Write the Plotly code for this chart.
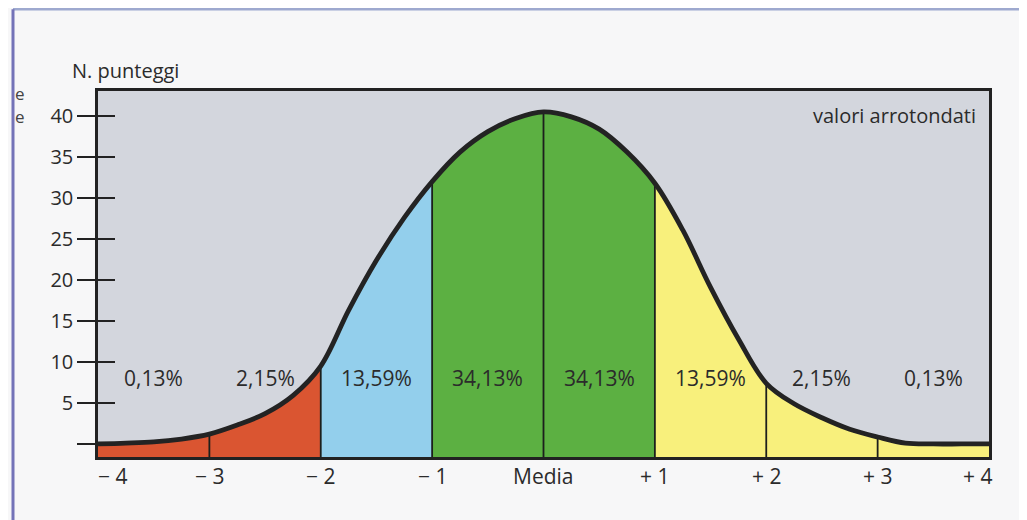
import plotly.graph_objects as go

# ---- data ----
curve_x = [-4.0, -3.75, -3.5, -3.25, -3.0, -2.75, -2.5, -2.25, -2.0, -1.75, -1.5, -1.25,
           -1.0, -0.75, -0.5, -0.25, 0.0, 0.25, 0.5, 0.75, 1.0, 1.25, 1.5, 1.75,
           2.0, 2.25, 2.5, 2.75, 3.0, 3.25, 3.5, 3.75, 4.0]
curve_y = [0.0, 0.1, 0.25, 0.6, 1.2, 2.3, 3.7, 5.9, 9.5, 16.3, 22.4, 27.6,
           32.0, 35.6, 38.1, 39.7, 40.5, 39.9, 38.4, 35.6, 31.8, 26.1, 19.1, 12.8,
           7.4, 4.9, 3.2, 1.8, 0.85, 0.1, 0.0, 0.0, 0.0]
segment_edges = [-4, -3, -2, -1, 0, 1, 2, 3, 4]
segment_labels = ["0,13%", "2,15%", "13,59%", "34,13%", "34,13%", "13,59%", "2,15%", "0,13%"]
segment_colors = ["#da5531", "#da5531", "#93cfec", "#5cb042", "#5cb042", "#f8f07c", "#f8f07c", "#f8f07c"]
divider_x = [-3, -2, -1, 0, 1, 2, 3]
x_tick_vals = [-4, -3, -2, -1, 0, 1, 2, 3, 4]
x_tick_text = ["\u2212 4", "\u2212 3", "\u2212 2", "\u2212 1", "Media", "+ 1", "+ 2", "+ 3", "+ 4"]
y_tick_vals = [0, 5, 10, 15, 20, 25, 30, 35, 40]
y_tick_text = ["", "5", "10", "15", "20", "25", "30", "35", "40"]

Y_MIN, Y_MAX = -1.59, 43.05
FONT = "Open Sans"
TXT = "#2b2b2b"

fig = go.Figure()

# coloured areas under the curve
for i in range(len(segment_edges) - 1):
    a, b = segment_edges[i], segment_edges[i + 1]
    xs = [x for x in curve_x if a <= x <= b]
    ys = [y for x, y in zip(curve_x, curve_y) if a <= x <= b]
    fig.add_trace(go.Scatter(
        x=xs + [b, a], y=ys + [Y_MIN, Y_MIN],
        fill="toself", fillcolor=segment_colors[i], mode="lines",
        line=dict(width=0), hoverinfo="skip", showlegend=False))

# vertical dividers
for d in divider_x:
    top = curve_y[curve_x.index(float(d))]
    fig.add_trace(go.Scatter(x=[d, d], y=[Y_MIN, top], mode="lines",
                             line=dict(color="#1c1f1c", width=1.8),
                             hoverinfo="skip", showlegend=False))

# the curve
fig.add_trace(go.Scatter(
    x=curve_x, y=curve_y, mode="lines",
    line=dict(color="#232323", width=4.8, shape="spline", smoothing=1.0),
    hoverinfo="skip", showlegend=False))

# invisible trace to anchor the overlaying axis (inside ticks)
fig.add_trace(go.Scatter(x=[-4], y=[0], yaxis="y2", mode="markers",
                         marker=dict(opacity=0), hoverinfo="skip", showlegend=False))

# percentage labels
for i, lab in enumerate(segment_labels):
    mid = (segment_edges[i] + segment_edges[i + 1]) / 2
    fig.add_annotation(x=mid, y=8.0, text=lab, showarrow=False,
                       font=dict(family=FONT, size=21, color=TXT))

# x labels
for v, t in zip(x_tick_vals, x_tick_text):
    shift = 14 if v == -4 else (-12 if v == 4 else 0)
    fig.add_annotation(x=v, y=-0.052, yref="paper", text=t, showarrow=False,
                       xshift=shift, yanchor="middle",
                       font=dict(family=FONT, size=21, color=TXT))

fig.add_annotation(x=-0.031, y=1.057, xref="paper", yref="paper", text="N. punteggi",
                   showarrow=False, xanchor="left", yanchor="middle",
                   font=dict(family=FONT, size=20, color=TXT))
fig.add_annotation(x=0.9875, y=0.934, xref="paper", yref="paper", text="valori arrotondati",
                   showarrow=False, xanchor="right", yanchor="middle",
                   font=dict(family=FONT, size=20, color=TXT))
# stray letters from the book page at the left edge
for yy in [0.9945, 0.929]:
    fig.add_annotation(x=-0.095, y=yy, xref="paper", yref="paper", text="e",
                       showarrow=False, xanchor="left", yanchor="middle",
                       font=dict(family=FONT, size=17, color="#444"))

# page frame lines
fig.add_shape(type="line", xref="paper", yref="paper", x0=-0.0954, x1=1.05, y0=1.2235, y1=1.2235,
              line=dict(color="#9ea9cf", width=2.5))
fig.add_shape(type="line", xref="paper", yref="paper", x0=-0.0954, x1=-0.0954, y0=1.2235, y1=-0.18,
              line=dict(color="#7473b8", width=3))

fig.update_layout(
    width=1019, height=512,
    margin=dict(l=90, r=38, t=83, b=63),
    paper_bgcolor="#f7f7f8", plot_bgcolor="#d3d6dd",
    showlegend=False,
    xaxis=dict(range=[-4, 4], showticklabels=False, ticks="", showgrid=False, zeroline=False,
               showline=True, linecolor="#222", linewidth=2.5, mirror=True),
    yaxis=dict(range=[Y_MIN, Y_MAX], tickvals=y_tick_vals, ticktext=y_tick_text,
               ticks="outside", ticklen=18, tickwidth=2, tickcolor="#222",
               ticklabelstandoff=0,
               tickfont=dict(family=FONT, size=20, color=TXT),
               showgrid=False, zeroline=False,
               showline=True, linecolor="#222", linewidth=2.5, mirror=True),
    yaxis2=dict(range=[Y_MIN, Y_MAX], overlaying="y", side="left", tickvals=y_tick_vals,
                ticks="inside", ticklen=17, tickwidth=2, tickcolor="#222",
                showticklabels=False, showgrid=False, zeroline=False, showline=False),
)

fig.write_html("out.html")
